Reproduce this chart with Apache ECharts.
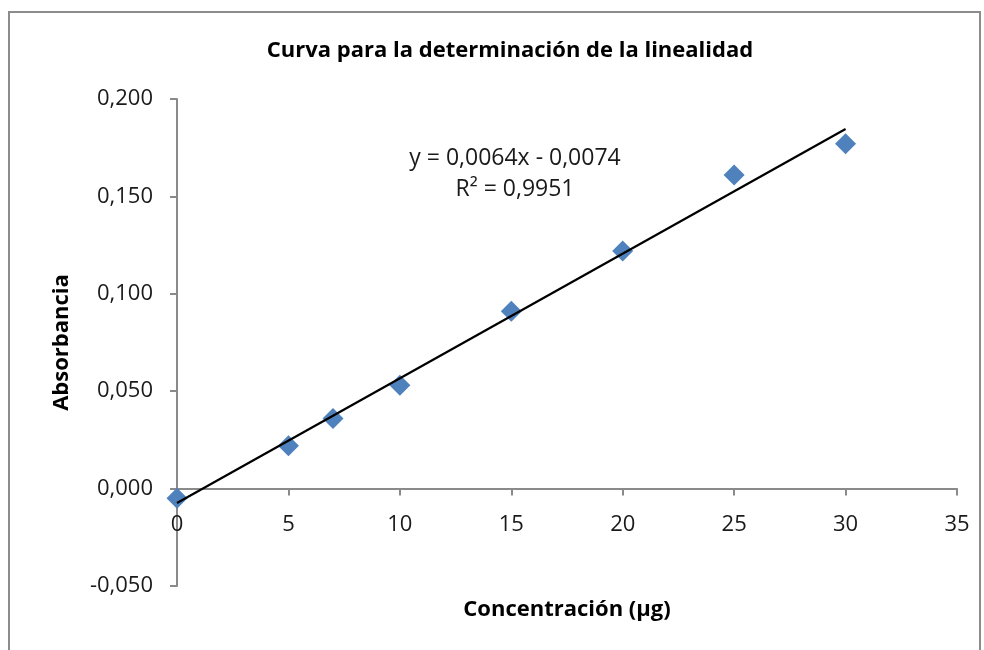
<!DOCTYPE html>
<html>
<head>
<meta charset="utf-8">
<script src="https://cdn.jsdelivr.net/npm/echarts@6/dist/echarts.min.js"></script>
<style>
  html, body { margin: 0; padding: 0; background: #fff; }
  #chart { width: 984px; height: 650px; }
</style>
</head>
<body>
<div id="chart"></div>
<script>
// datos
const concentraciones = [0, 5, 7, 10, 15, 20, 25, 30];
const absorbancias = [-0.005, 0.022, 0.036, 0.053, 0.091, 0.122, 0.161, 0.177];
const pendiente = 0.0064;
const intercepto = -0.0074;
const r2 = 0.9951;
const xTicks = [0, 5, 10, 15, 20, 25, 30, 35];
const yTicks = [-0.05, 0, 0.05, 0.1, 0.15, 0.2];

const fuente = "'Open Sans', 'Noto Sans', sans-serif";
const colorEje = "#8a8a8a";

const puntos = concentraciones.map((x, i) => [x, absorbancias[i]]);
const xFin = concentraciones[concentraciones.length - 1];
const tendencia = [
  [0, intercepto],
  [xFin, pendiente * xFin + intercepto],
];

const fmt = (v) => v.toFixed(3).replace(".", ",");
const fmtEq = (v) => v.toFixed(4).replace(".", ",");

// el eje x se dibuja a la altura de y = 0 (como en Excel)
const altoGrid = 650 - 99 - 64;
const yMin = yTicks[0];
const yMax = yTicks[yTicks.length - 1];
const offsetCero = -altoGrid * (0 - yMin) / (yMax - yMin);

const chart = echarts.init(document.getElementById("chart"));
chart.setOption({
  animation: false,
  backgroundColor: "#fff",
  title: {
    text: "Curva para la determinación de la linealidad",
    top: 35,
    left: 505,
    textAlign: "center",
    textStyle: { fontFamily: fuente, fontSize: 22, fontWeight: "bold", color: "#000" },
  },
  grid: { left: 177, right: 27, top: 99, bottom: 64, containLabel: false, outerBoundsMode: "none" },
  xAxis: {
    type: "value",
    min: xTicks[0],
    max: xTicks[xTicks.length - 1],
    interval: 5,
    offset: offsetCero,
    splitLine: { show: false },
    axisLine: { onZero: false, lineStyle: { color: colorEje, width: 2 } },
    axisTick: { show: true, length: 7, lineStyle: { color: colorEje, width: 2 } },
    axisLabel: { margin: 25, fontFamily: fuente, fontSize: 22, color: "#1a1a1a" },
    name: "Concentración (µg)",
    nameLocation: "middle",
    nameGap: 110,
    nameTextStyle: { fontFamily: fuente, fontSize: 22, fontWeight: "bold", color: "#000" },
  },
  yAxis: {
    type: "value",
    min: yMin,
    max: yMax,
    interval: 0.05,
    splitLine: { show: false },
    axisLine: { show: true, lineStyle: { color: colorEje, width: 2 } },
    axisTick: { show: true, length: 7, lineStyle: { color: colorEje, width: 2 } },
    axisLabel: { margin: 24, fontFamily: fuente, fontSize: 22, color: "#1a1a1a", formatter: fmt },
    name: "Absorbancia",
    nameLocation: "middle",
    nameGap: 104,
    nameTextStyle: { fontFamily: fuente, fontSize: 22, fontWeight: "bold", color: "#000" },
  },
  graphic: [
    {
      type: "rect",
      shape: { x: 9, y: 12, width: 971, height: 660 },
      style: { fill: null, stroke: "#8c8c8c", lineWidth: 2 },
      silent: true,
    },
    {
      type: "text",
      x: 515,
      y: 158,
      style: {
        text: "y = " + fmtEq(pendiente) + "x - " + fmtEq(-intercepto),
        fontFamily: fuente, fontSize: 23, fill: "#1a1a1a",
        textAlign: "center", textVerticalAlign: "middle",
      },
    },
    {
      type: "text",
      x: 515,
      y: 189,
      style: {
        text: "R² = " + r2.toFixed(4).replace(".", ","),
        fontFamily: fuente, fontSize: 23, fill: "#1a1a1a",
        textAlign: "center", textVerticalAlign: "middle",
      },
    },
  ],
  series: [
    {
      type: "line",
      data: tendencia,
      symbol: "none",
      lineStyle: { color: "#000", width: 2.2 },
      z: 3,
    },
    {
      type: "scatter",
      data: puntos,
      symbol: "diamond",
      symbolSize: 21,
      itemStyle: { color: "#4f81bd", opacity: 1 },
      z: 2,
    },
  ],
});
</script>
</body>
</html>
